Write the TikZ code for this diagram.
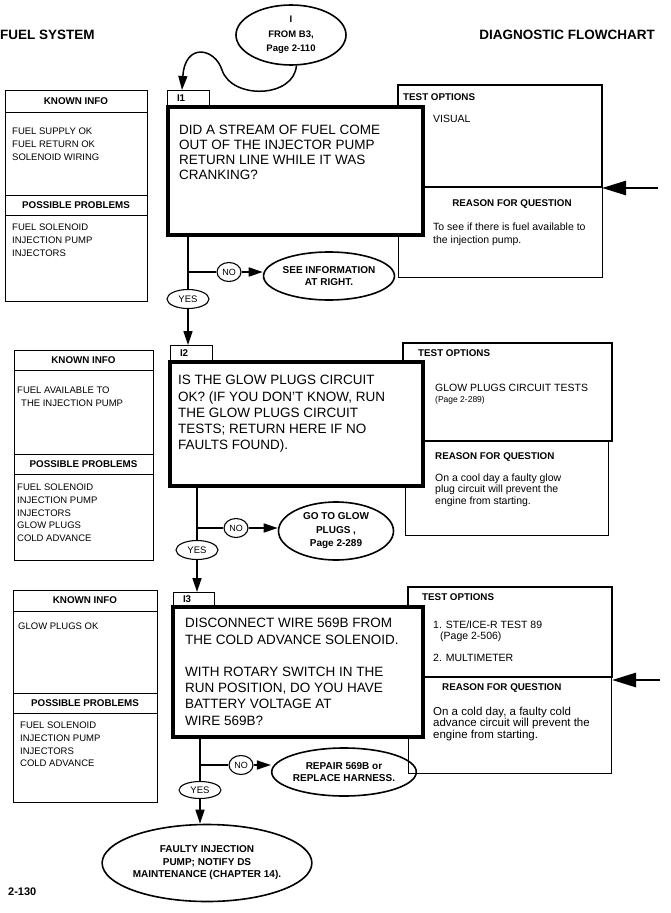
\documentclass[tikz,border=0pt]{standalone}
\usepackage{fontspec}
\setmainfont{Liberation Sans}
\usetikzlibrary{shapes.geometric, arrows.meta, positioning}

\begin{document}
\begin{tikzpicture}[
  x=1pt, y=-1pt,
  box/.style={draw, line width=0.9pt, anchor=north west, inner sep=0pt, outer sep=0pt},
  head/.style={font=\bfseries\fontsize{9.8}{11.5}\selectfont},
  infohead/.style={box, head},
  optbox/.style={box, line width=1.3pt},
  tab/.style={box, head, align=left, text width=22pt, inner xsep=10pt, minimum height=17pt},
  qbox/.style={draw, line width=3.5pt, fill=white, anchor=north west, inner sep=0pt, outer sep=0pt},
  lbl/.style={inner sep=0pt, align=left},
  qtext/.style={lbl, font=\fontsize{13.5}{16.2}\selectfont},
  items/.style={lbl, font=\fontsize{9.5}{12.7}\selectfont},
  optext/.style={lbl, font=\fontsize{10.5}{12}\selectfont},
  oval/.style={ellipse, draw, line width=1.6pt, inner sep=0pt, align=center, font=\bfseries\fontsize{10}{12.5}\selectfont},
  yesmark/.style={ellipse, draw, line width=1.1pt, inner sep=0pt, minimum width=42pt, minimum height=19pt, font=\fontsize{9.5}{11}\selectfont},
  nomark/.style={ellipse, draw, line width=1.1pt, inner sep=0pt, minimum width=24pt, minimum height=19pt, font=\fontsize{9}{11}\selectfont},
  flow/.style={line width=1.5pt},
  arr/.style={flow, -{Triangle[length=14pt, width=9pt]}},
  bigarr/.style={line width=2.8pt, -{Triangle[length=24pt, width=14pt]}},
]
\fill[white] (0,0) rectangle (670,913);
\useasboundingbox (0,0) rectangle (670,913);

% page heading
\node[lbl, anchor=west, font=\bfseries\fontsize{13.5}{16}\selectfont] (sys) at (0,35) {FUEL SYSTEM};
\node[lbl, anchor=east, font=\bfseries\fontsize{13.5}{16}\selectfont] (chart) at (655,35) {DIAGNOSTIC FLOWCHART};
\node[oval, minimum width=110pt, minimum height=60pt, font=\bfseries\fontsize{9.5}{14.5}\selectfont] (from) at (291,35) {I\\FROM B3,\\Page 2-110};

% ---- I1 ----
\node[infohead, minimum width=142pt, minimum height=22pt] (kh1) at (5,90) {KNOWN INFO};
\node[box, minimum width=142pt, minimum height=83pt, below=0pt of kh1] (kb1) {};
\node[infohead, minimum width=142pt, minimum height=20pt, below=0pt of kb1] (ph1) {POSSIBLE PROBLEMS};
\node[box, minimum width=142pt, minimum height=86pt, below=0pt of ph1] (pb1) {};
\node[items, below right=15.8pt and 7pt of kb1.north west] (ki1) {FUEL SUPPLY OK\\FUEL RETURN OK\\SOLENOID WIRING};
\node[items, below right=8.8pt and 7pt of pb1.north west] (pi1) {FUEL SOLENOID\\INJECTION PUMP\\INJECTORS};

\node[optbox, minimum width=204pt, minimum height=102pt] (o1) at (398,85) {};
\node[box, minimum width=204pt, minimum height=90pt, below=0pt of o1] (r1) {};
\node[lbl, head, below right=8.6pt and 5pt of o1.north west] (oh1) {TEST OPTIONS};
\node[optext, below right=29.6pt and 35pt of o1.north west] (ot1) {VISUAL};
\node[lbl, head, below=12.6pt of r1.north, xshift=12pt] (rh1) {REASON FOR QUESTION};
\node[optext, below right=35.5pt and 35pt of r1.north west, font=\fontsize{10.5}{13}\selectfont] (rt1) {To see if there is fuel available to\\the injection pump.};

\node[tab] (t1) at (167,90) {I1};
\node[qbox, minimum width=255pt, minimum height=128pt] (q1) at (168,107) {};
\node[qtext, below right=18.2pt and 11pt of q1.north west, font=\fontsize{13.5}{14.8}\selectfont] (qt1) {DID A STREAM OF FUEL COME\\OUT OF THE INJECTOR PUMP\\RETURN LINE WHILE IT WAS\\CRANKING?};

\node[yesmark] (yes1) at (188,299) {YES};
\node[nomark] (no1) at (229,272) {NO};
\node[oval, minimum width=115pt, minimum height=48pt] (out1) at (329,276) {SEE INFORMATION\\AT RIGHT.};
\coordinate (ptr1) at (658,188);

% ---- I2 ----
\node[infohead, minimum width=139pt, minimum height=20pt] (kh2) at (14,350) {KNOWN INFO};
\node[box, minimum width=139pt, minimum height=84pt, below=0pt of kh2] (kb2) {};
\node[infohead, minimum width=139pt, minimum height=20pt, below=0pt of kb2] (ph2) {POSSIBLE PROBLEMS};
\node[box, minimum width=139pt, minimum height=86pt, below=0pt of ph2] (pb2) {};
\node[items, below right=16.8pt and 3pt of kb2.north west] (ki2) {FUEL AVAILABLE TO\\\hspace{4pt}THE INJECTION PUMP};
\node[items, below right=9.8pt and 3pt of pb2.north west] (pi2) {FUEL SOLENOID\\INJECTION PUMP\\INJECTORS\\GLOW PLUGS\\COLD ADVANCE};

\node[optbox, minimum width=209pt, minimum height=98pt] (o2) at (403,343) {};
\node[box, minimum width=203pt, minimum height=94pt] (r2) at (405,441) {};
\node[lbl, head, below right=6.6pt and 15pt of o2.north west] (oh2) {TEST OPTIONS};
\node[optext, below right=40.6pt and 32pt of o2.north west] (ot2) {GLOW PLUGS CIRCUIT TESTS\\[-1pt]{\fontsize{8.5}{10}\selectfont(Page 2-289)}};
\node[lbl, head, below right=11.6pt and 30pt of r2.north west] (rh2) {REASON FOR QUESTION};
\node[optext, below right=32.5pt and 30pt of r2.north west, font=\fontsize{10.5}{11.6}\selectfont] (rt2) {On a cool day a faulty glow\\plug circuit will prevent the\\engine from starting.};

\node[tab] (t2) at (170,345) {I2};
\node[qbox, minimum width=253pt, minimum height=124pt] (q2) at (170,362) {};
\node[qtext, below right=13.2pt and 8pt of q2.north west] (qt2) {IS THE GLOW PLUGS CIRCUIT\\OK? (IF YOU DON'T KNOW, RUN\\THE GLOW PLUGS CIRCUIT\\TESTS; RETURN HERE IF NO\\FAULTS FOUND).};

\node[yesmark] (yes2) at (197,550) {YES};
\node[nomark] (no2) at (236,528) {NO};
\node[oval, minimum width=115pt, minimum height=58pt, font=\bfseries\fontsize{10}{13.5}\selectfont] (out2) at (336,531) {GO TO GLOW\\PLUGS ,\\Page 2-289};

% ---- I3 ----
\node[infohead, minimum width=144pt, minimum height=21pt] (kh3) at (13,590) {KNOWN INFO};
\node[box, minimum width=144pt, minimum height=82pt, below=0pt of kh3] (kb3) {};
\node[infohead, minimum width=144pt, minimum height=20pt, below=0pt of kb3] (ph3) {POSSIBLE PROBLEMS};
\node[box, minimum width=144pt, minimum height=89pt, below=0pt of ph3] (pb3) {};
\node[items, below right=11.8pt and 5pt of kb3.north west] (ki3) {GLOW PLUGS OK};
\node[items, below right=8.8pt and 7pt of pb3.north west] (pi3) {FUEL SOLENOID\\INJECTION PUMP\\INJECTORS\\COLD ADVANCE};

\node[optbox, minimum width=204pt, minimum height=90pt] (o3) at (408,587) {};
\node[box, minimum width=203pt, minimum height=96pt, below right=0pt and 0pt of o3.south west] (r3) {};
\node[lbl, head, below right=6.6pt and 14pt of o3.north west] (oh3) {TEST OPTIONS};
\node[optext, below right=33.6pt and 25pt of o3.north west, font=\fontsize{10.5}{11}\selectfont] (ot3) {1. STE/ICE-R TEST 89\\\hspace{7pt}(Page 2-506)\\[11pt]2. MULTIMETER};
\node[lbl, head, below right=6.6pt and 34pt of r3.north west] (rh3) {REASON FOR QUESTION};
\node[optext, below right=29.5pt and 25pt of r3.north west, font=\fontsize{11.5}{11.8}\selectfont] (rt3) {On a cold day, a faulty cold\\advance circuit will prevent the\\engine from starting.};

\node[tab, text width=21pt, minimum height=15pt] (t3) at (173,592) {I3};
\node[qbox, minimum width=250pt, minimum height=130pt] (q3) at (173,607) {};
\node[qtext, below right=11.2pt and 12pt of q3.north west] (qt3) {DISCONNECT WIRE 569B FROM\\THE COLD ADVANCE SOLENOID.\\[16.2pt]WITH ROTARY SWITCH IN THE\\RUN POSITION, DO YOU HAVE\\BATTERY VOLTAGE AT\\WIRE 569B?};

\node[yesmark, minimum height=17pt] (yes3) at (200,790) {YES};
\node[nomark] (no3) at (241,765) {NO};
\node[oval, minimum width=118pt, minimum height=48pt] (out3) at (344,772) {REPAIR 569B or\\REPLACE HARNESS.};
\node[oval, minimum width=187pt, minimum height=77pt] (fin) at (207,863) {FAULTY INJECTION\\PUMP; NOTIFY DS\\MAINTENANCE (CHAPTER 14).};
\coordinate (ptr3) at (660,680);

\node[lbl, anchor=west, font=\bfseries\fontsize{11}{13}\selectfont] (pg) at (8,892) {2-130};

% connectors
\coordinate (entry) at ([xshift=15pt]t1.north west);
\draw[arr] (from.-80) .. controls (294,98) and (232,100) .. (222,70) .. controls (215,48) and (185,42) .. (entry);

\draw[flow] (yes1 |- q1.south) -- (yes1);
\draw[flow] (yes1 |- no1) -- (no1);
\draw[arr] (no1) -- (no1 -| out1.west);
\draw[arr] (yes1) -- (yes1 |- t2.north);
\draw[bigarr] (ptr1) -- (ptr1 -| o1.south east);

\draw[flow] (yes2 |- q2.south) -- (yes2);
\draw[flow] (yes2 |- no2) -- (no2);
\draw[arr] (no2) -- (no2 -| out2.west);
\draw[arr] (yes2) -- (yes2 |- t3.north);

\draw[flow] (yes3 |- q3.south) -- (yes3);
\draw[flow] (yes3 |- no3) -- (no3);
\draw[arr] (no3) -- (no3 -| out3.west);
\draw[arr] (yes3) -- (yes3 |- fin.north);
\draw[bigarr] (ptr3) -- (ptr3 -| o3.south east);

\end{tikzpicture}
\end{document}
